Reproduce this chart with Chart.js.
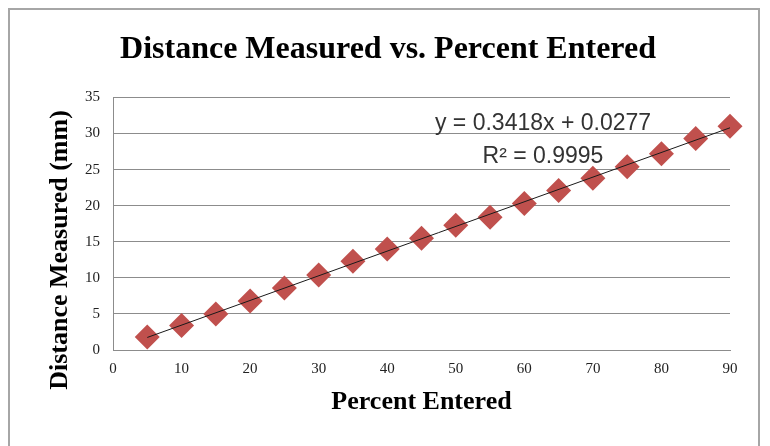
<!DOCTYPE html>
<html>
<head>
<meta charset="utf-8">
<script src="https://cdn.jsdelivr.net/npm/chart.js@4"></script>
<style>
    body { margin: 0; background: #fff; }
    #wrap { position: relative; width: 770px; height: 446px; }
    #frame { position: absolute; left: 8px; top: 8px; width: 752px; height: 446px; border: 2px solid #a6a6a6; box-sizing: border-box; }
    canvas { position: absolute; left: 0; top: 0; }
</style>
</head>
<body>
<div id="wrap">
    <div id="frame"></div>
    <canvas id="distChart" width="770" height="446"></canvas>
</div>
<script>
// ========== DATA ==========
const percentEntered = [5, 10, 15, 20, 25, 30, 35, 40, 45, 50, 55, 60, 65, 70, 75, 80, 85, 90];
const distanceMeasured = [1.8, 3.4, 5.0, 6.8, 8.6, 10.4, 12.3, 14.0, 15.5, 17.3, 18.4, 20.3, 22.1, 23.8, 25.4, 27.2, 29.3, 31.0];
const xTicks = [0, 10, 20, 30, 40, 50, 60, 70, 80, 90];
const yTicks = [0, 5, 10, 15, 20, 25, 30, 35];

// trendline as reported by the fit
const slope = 0.3418;
const intercept = 0.0277;
const fitText = ['y = 0.3418x + 0.0277', 'R\u00B2 = 0.9995'];

const trendX = [percentEntered[0], percentEntered[percentEntered.length - 1]];
const trendPoints = trendX.map(x => ({ x: x, y: slope * x + intercept }));
const points = percentEntered.map((x, i) => ({ x: x, y: distanceMeasured[i] }));

// ========== EXTRA TEXT ==========
const extraText = {
    id: 'extraText',
    afterDraw(chart) {
        const c = chart.ctx;
        c.save();
        // y axis title
        c.translate(60, 250);
        c.rotate(-Math.PI / 2);
        c.font = 'bold 26px "Liberation Serif"';
        c.fillStyle = '#000';
        c.textAlign = 'center';
        c.textBaseline = 'middle';
        c.fillText('Distance Measured (mm)', 0, 0);
        c.restore();

        // equation label
        c.save();
        c.font = '23px "Liberation Sans"';
        c.fillStyle = '#333';
        c.textAlign = 'center';
        c.textBaseline = 'alphabetic';
        c.fillText(fitText[0], 543, 130);
        c.fillText(fitText[1], 543, 163);
        c.restore();
    }
};

// ========== CHART ==========
const ctx = document.getElementById('distChart').getContext('2d');
new Chart(ctx, {
    type: 'scatter',
    data: {
        datasets: [{
            type: 'line',
            label: 'Linear',
            data: trendPoints,
            borderColor: '#1a1a1a',
            borderWidth: 1,
            pointRadius: 0,
            fill: false,
            clip: false
        }, {
            label: 'Distance',
            data: points,
            pointStyle: 'rectRot',
            pointRadius: 12.5,
            pointHoverRadius: 12.5,
            backgroundColor: '#C0504D',
            borderColor: '#C0504D',
            borderWidth: 0,
            clip: false
        }]
    },
    options: {
        responsive: false,
        animation: false,
        layout: { padding: { left: 46, right: 40, top: 0, bottom: 0 } },
        plugins: {
            legend: { display: false },
            tooltip: { enabled: false },
            title: {
                display: true,
                text: 'Distance Measured vs. Percent Entered',
                font: { family: '"Liberation Serif"', size: 32, weight: 'bold' },
                color: '#000',
                padding: { top: 31, bottom: 28 }
            }
        },
        scales: {
            x: {
                type: 'linear',
                min: 0,
                max: 90,
                afterBuildTicks: scale => { scale.ticks = xTicks.map(v => ({ value: v })); },
                afterFit: scale => { scale.height = 96; },
                ticks: { font: { family: '"Liberation Serif"', size: 15 }, color: '#222', padding: 10 },
                grid: { display: false, drawTicks: false },
                border: { color: '#8c8c8c', width: 1 },
                title: {
                    display: true,
                    text: 'Percent Entered',
                    font: { family: '"Liberation Serif"', size: 26, weight: 'bold' },
                    color: '#000',
                    padding: { top: 6, bottom: 28 }
                }
            },
            y: {
                min: 0,
                max: 35,
                afterBuildTicks: scale => { scale.ticks = yTicks.map(v => ({ value: v })); },
                afterFit: scale => { scale.width = 67; },
                ticks: { font: { family: '"Liberation Serif"', size: 15 }, color: '#222', padding: 13 },
                grid: { color: '#8c8c8c', drawTicks: false },
                border: { color: '#8c8c8c', width: 1 }
            }
        }
    },
    plugins: [extraText]
});
</script>
</body>
</html>
